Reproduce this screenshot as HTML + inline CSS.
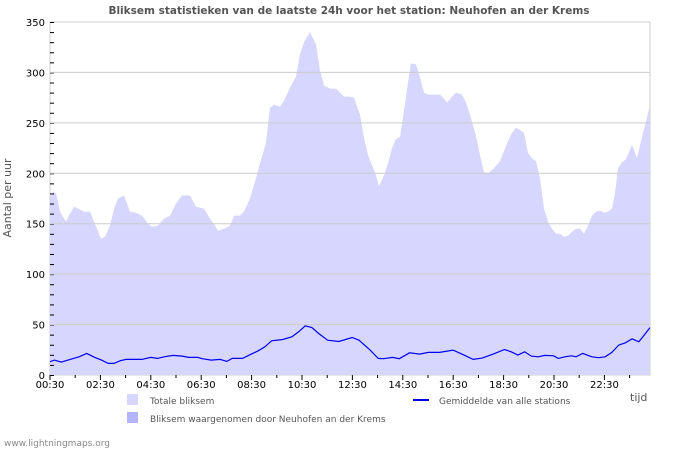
<!DOCTYPE html>
<html><head><meta charset="utf-8"><style>
body{margin:0;background:#fff;width:700px;height:450px;overflow:hidden;font-family:"Liberation Sans","DejaVu Sans",sans-serif}
</style></head><body>
<svg id="s" width="700" height="450" xmlns="http://www.w3.org/2000/svg" font-family="DejaVu Sans, Liberation Sans, sans-serif">
<text x="349" y="14" text-anchor="middle" font-size="10.5" font-weight="bold" fill="#555">Bliksem statistieken van de laatste 24h voor het station: Neuhofen an der Krems</text>
<rect x="50" y="22" width="600" height="353" fill="#fff" stroke="#ccc"/>
<g id="grid" stroke="#ccc" stroke-width="1"></g>
<path id="area" fill="#d6d6ff"/>
<path id="line" fill="none" stroke="#0000ee" stroke-width="1.2"/>
<g id="ticks" stroke="#000" stroke-width="1"></g>
<g id="lbl" font-size="10" fill="#000"></g>
<text transform="translate(11,198) rotate(-90)" text-anchor="middle" font-size="11" fill="#555">Aantal per uur</text>
<text x="630" y="401" font-size="11" fill="#555">tijd</text>
<rect x="127" y="394" width="11" height="11" fill="#d6d6ff"/>
<text x="150" y="404" font-size="9" fill="#555">Totale bliksem</text>
<rect x="127" y="412" width="11" height="11" fill="#b4b4ff"/>
<text x="150" y="422" font-size="9" fill="#555">Bliksem waargenomen door Neuhofen an der Krems</text>
<line x1="413" y1="400" x2="429" y2="400" stroke="#0000ee" stroke-width="2"/>
<text x="439" y="404" font-size="9" fill="#555">Gemiddelde van alle stations</text>
<text x="4" y="446" font-size="9" fill="#888">www.lightningmaps.org</text>
</svg>
<script>
var Y=function(v){return 375-v*353/350};
var tot=[[50,175],[53,182],[56,180],[60,162],[66,152],[70,160],[74,167],[80,164],[84,162],[90,162],[94,152],[97,145],[101,135],[105,137],[110,148],[114,165],[118,175],[124,178],[130,162],[136,161],[142,158],[148,150],[152,147],[158,148],[164,155],[170,158],[176,170],[182,178],[190,178],[196,167],[204,165],[210,155],[214,150],[218,143],[224,145],[230,148],[234,158],[240,158],[244,162],[250,175],[256,195],[260,210],[266,230],[270,265],[274,268],[280,266],[284,272],[290,285],[296,296],[300,318],[304,330],[310,340],[316,328],[320,302],[324,287],[330,284],[336,284],[340,280],[344,276],[350,276],[354,275],[360,258],[364,235],[368,218],[372,208],[376,198],[379,187],[384,198],[388,210],[392,225],[396,234],[400,236],[404,262],[408,290],[411,309],[416,308],[420,295],[424,280],[428,278],[434,278],[440,278],[444,274],[447,270],[452,276],[456,280],[462,278],[466,270],[470,258],[476,237],[480,218],[484,201],[488,200],[494,205],[500,212],[504,222],[508,232],[512,240],[516,245],[520,243],[524,240],[528,220],[532,215],[536,212],[540,195],[544,165],[548,152],[552,145],[556,140],[560,140],[564,137],[568,138],[572,142],[576,145],[580,145],[584,140],[588,148],[592,158],[596,162],[600,163],[604,161],[608,162],[612,165],[615,180],[618,205],[622,211],[626,214],[632,228],[637,215],[643,240],[650,267]];
var d="M50,375";tot.forEach(function(p){d+=" L"+p[0]+","+Y(p[1]).toFixed(1)});d+=" L650,375Z";
document.getElementById("area").setAttribute("d",d);
var ln=[[115,185],[125,180],[140,186],[160,178],[180,170],[197,160],[215,172],[230,180],[245,190],[258,190],[272,182],[285,178],[320,178],[340,172],[355,175],[370,170],[390,166],[410,168],[425,172],[445,172],[455,176],[475,180],[495,178],[510,184],[522,175],[545,175],[560,165],[580,152],[595,140],[610,122],[635,118],[655,110],[670,95],[685,77],[700,82],[715,100],[735,120],[760,124],[790,112],[805,120],[830,150],[848,175],[860,176],[880,172],[895,176],[918,158],[940,162],[960,157],[985,157],[1015,150],[1035,162],[1060,178],[1080,174],[1105,162],[1130,148],[1145,155],[1160,165],[1175,155],[1190,168],[1205,170],[1220,166],[1240,167],[1250,175],[1265,170],[1280,167],[1290,170],[1305,160],[1325,170],[1340,173],[1355,170],[1370,157],[1385,135],[1400,128],[1415,116],[1430,125],[1440,108],[1455,82]];
var l="";ln.forEach(function(p,i){var x=50+(p[0]-115)*600/1340;var v=(225-p[1])/3.04;l+=(i?" L":"M")+x.toFixed(1)+","+Y(v).toFixed(1)});
document.getElementById("line").setAttribute("d",l);
var g=document.getElementById("grid"),t=document.getElementById("ticks"),lb=document.getElementById("lbl"),ns="http://www.w3.org/2000/svg";
function el(p,n,a){var e=document.createElementNS(ns,n);for(var k in a)e.setAttribute(k,a[k]);p.appendChild(e);return e}
for(var v=50;v<=300;v+=50)el(g,"line",{x1:50,x2:650,y1:Y(v),y2:Y(v)});
document.getElementById("s").insertBefore(g,null);
for(var v=0;v<=350;v+=10){el(t,"line",{x1:50,x2:54,y1:Y(v)+.5,y2:Y(v)+.5});}
for(var v=0;v<=350;v+=50){var e=el(lb,"text",{x:45,y:Y(v)+4,"text-anchor":"end"});e.textContent=v;}
var labs=["00:30","02:30","04:30","06:30","08:30","10:30","12:30","14:30","16:30","18:30","20:30","22:30"];
for(var h=0;h<24;h++){var x=50+h*25.2;el(t,"line",{x1:x,x2:x,y1:375,y2:h%2?378:380});if(h%2==0){var e=el(lb,"text",{x:x,y:388,"text-anchor":"middle"});e.textContent=labs[h/2];}}
</script>
</body></html>
